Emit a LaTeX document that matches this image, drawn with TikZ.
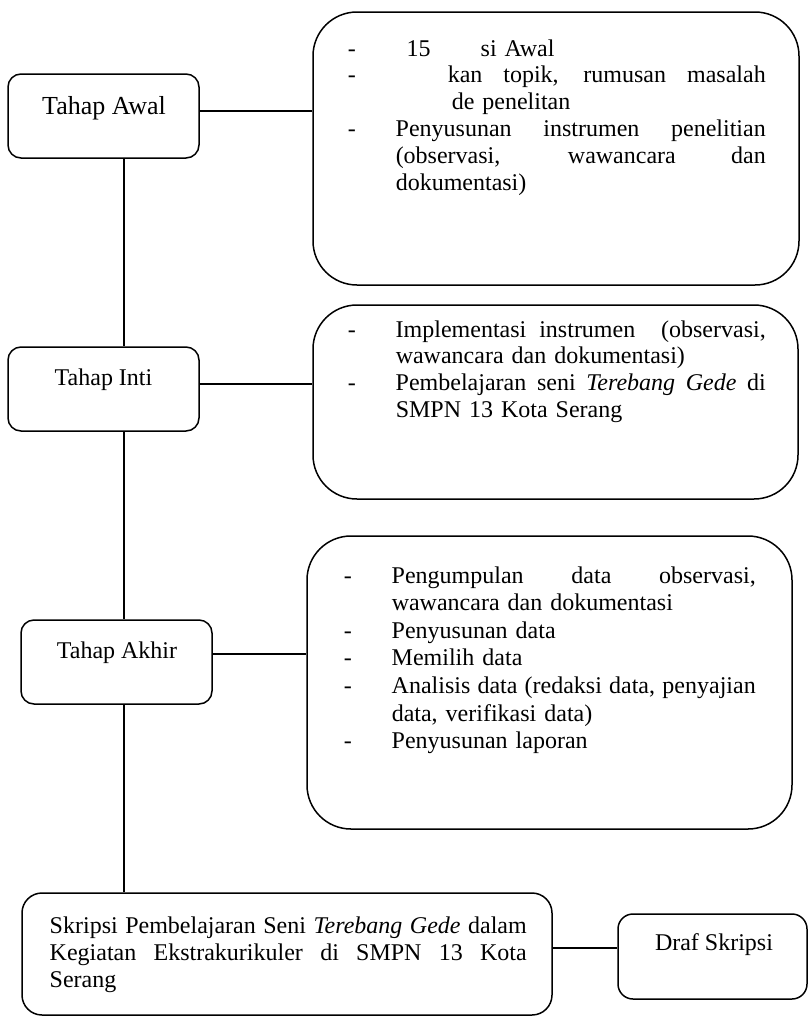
\documentclass[tikz,border=0pt]{standalone}
\usepackage{fontspec}
\setmainfont{Liberation Serif}
\usetikzlibrary{positioning}

\newlength{\colw}
\newcommand{\jst}[1]{\makebox[\colw][s]{\spaceskip=.25em plus 1fil\relax #1}}
\newcommand{\itm}[1]{\makebox[24pt][l]{-}\jst{#1}}
\newcommand{\itml}[1]{\makebox[24pt][l]{-}#1}
\newcommand{\cnt}[1]{\hspace*{24pt}\jst{#1}}
\newcommand{\cntl}[1]{\hspace*{24pt}#1}

\tikzset{
  stage/.style={draw, rounded corners=6.5pt, minimum width=95.5pt, minimum height=42pt},
  infobox/.style={draw, rounded corners=22pt},
  listtext/.style={anchor=base west, inner sep=0pt},
  stagetext/.style={anchor=base, inner sep=0pt, font=\fontsize{12}{14}\selectfont},
}

\begin{document}
\begin{tikzpicture}[x=0.5pt, y=-0.5pt, line width=0.75pt]
  \useasboundingbox (0,0) rectangle (809,1018);

  % stages on the left
  \node[stage] (awal) at (103.5,116) {};
  \node[stage] (inti) at (103.5,389) {};
  \node[stage] (akhir) at (116.5,662) {};
  \node[draw, rounded corners=10pt, minimum width=265pt, minimum height=61pt] (skripsi) at (287,954) {};
  \node[draw, rounded corners=7.5pt, minimum width=94.5pt, minimum height=42.5pt] (draf) at (712.5,956.5) {};

  \node[stagetext, font=\fontsize{13}{15}\selectfont] (awaltxt) at (104,114) {Tahap Awal};
  \node[stagetext] (intitxt) at (103.5,385) {Tahap Inti};
  \node[stagetext] (akhirtxt) at (117,658) {Tahap Akhir};
  \node[stagetext] (draftxt) at (714,950) {Draf Skripsi};

  % boxes on the right
  \node[infobox, minimum width=243pt, minimum height=136.5pt] (awalbox) at (556,148.5) {};
  \node[infobox, minimum width=242.5pt, minimum height=97pt] (intibox) at (555.5,402) {};
  \node[infobox, minimum width=242.5pt, minimum height=146.5pt] (akhirbox) at (549.5,682.5) {};

  \node[listtext, text width=209pt, font=\fontsize{12}{13.4}\selectfont] (awallist) at (347,56) {%
    \setlength{\colw}{185pt}%
    \makebox[29.5pt][l]{-}\makebox[37pt][l]{15}si Awal\\
    \makebox[50pt][l]{-}{\setlength{\colw}{159pt}\jst{kan topik, rumusan masalah}}\\
    \hspace*{52pt}de penelitan\\
    \itm{Penyusunan instrumen penelitian}\\
    \cnt{(observasi, wawancara dan}\\
    \cntl{dokumentasi)}};

  \node[listtext, text width=209pt, font=\fontsize{12}{13.35}\selectfont] (intilist) at (347,337) {%
    \setlength{\colw}{185pt}%
    \itm{Implementasi instrumen\ \ (observasi,}\\
    \cntl{wawancara dan dokumentasi)}\\
    \itm{Pembelajaran seni \textit{Terebang Gede} di}\\
    \cntl{SMPN 13 Kota Serang}};

  \node[listtext, text width=206pt, font=\fontsize{12}{13.8}\selectfont] (akhirlist) at (343,583) {%
    \setlength{\colw}{182pt}%
    \itm{Pengumpulan data observasi,}\\
    \cntl{wawancara dan dokumentasi}\\
    \itml{Penyusunan data}\\
    \itml{Memilih data}\\
    \itm{Analisis data (redaksi data, penyajian}\\
    \cntl{data, verifikasi data)}\\
    \itml{Penyusunan laporan}};

  \node[listtext, text width=238.5pt, font=\fontsize{12}{13.5}\selectfont] (skripsitxt) at (49,933) {%
    \setlength{\colw}{238.5pt}%
    \jst{Skripsi Pembelajaran Seni \textit{Terebang Gede} dalam}\\
    \jst{Kegiatan Ekstrakurikuler di SMPN 13 Kota}\\
    Serang};

  % connectors
  \coordinate (spine) at (124,0);
  \draw (spine |- awal.south) -- (spine |- inti.north);
  \draw (spine |- inti.south) -- (spine |- akhir.north);
  \draw (spine |- akhir.south) -- (spine |- skripsi.north);
  \draw ([yshift=2.5pt]awal.east) -- ([yshift=2.5pt]awal.east -| awalbox.west);
  \draw ([yshift=2.5pt]inti.east) -- ([yshift=2.5pt]inti.east -| intibox.west);
  \draw ([yshift=4pt]akhir.east) -- ([yshift=4pt]akhir.east -| akhirbox.west);
  \draw ([yshift=3pt]skripsi.east) -- ([yshift=3pt]skripsi.east -| draf.west);
\end{tikzpicture}
\end{document}
